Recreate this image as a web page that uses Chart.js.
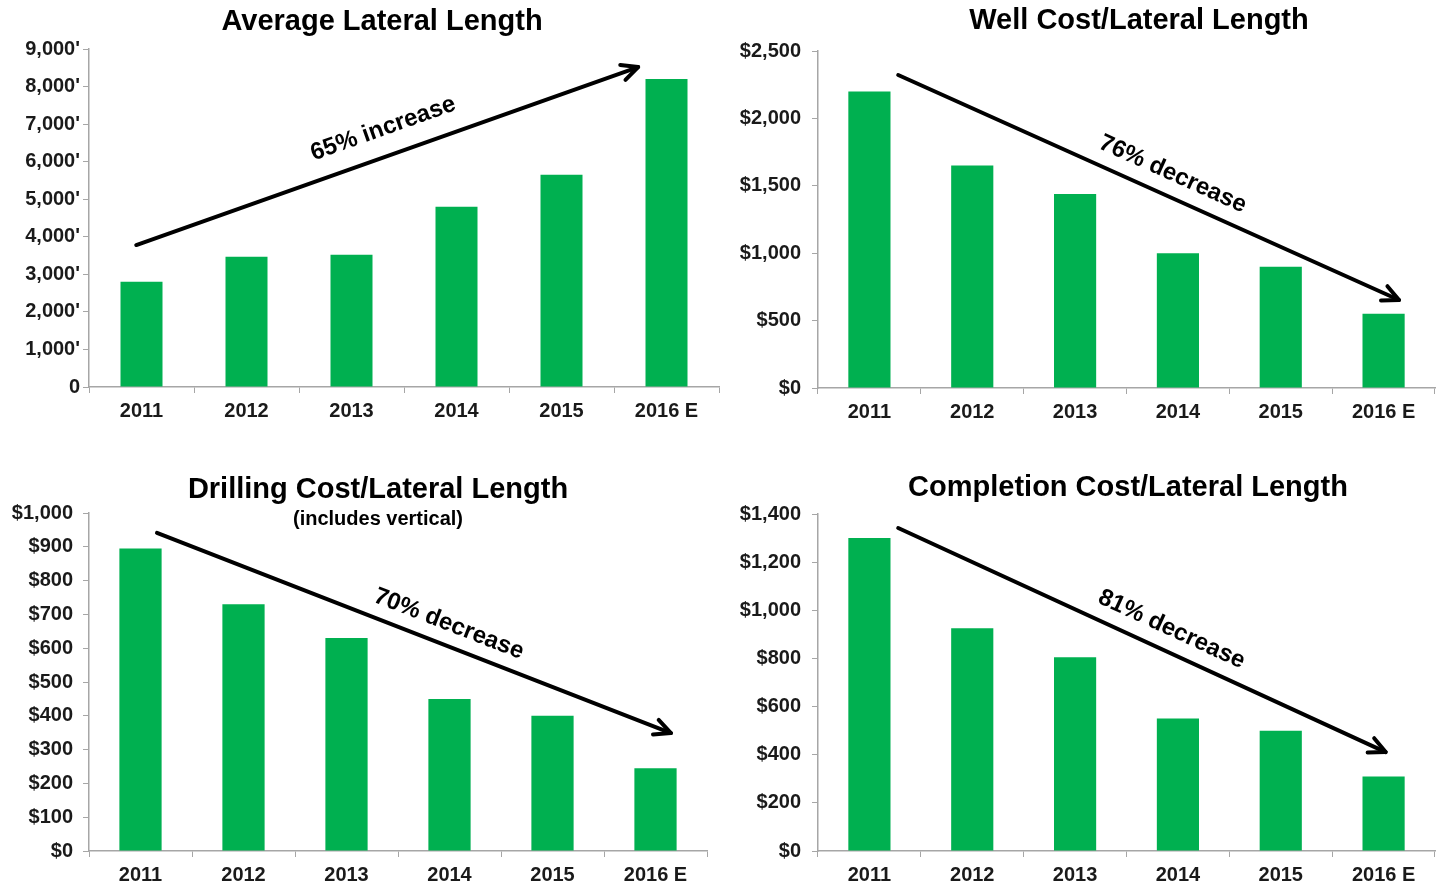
<!DOCTYPE html>
<html>
<head>
<meta charset="utf-8">
<script src="https://cdn.jsdelivr.net/npm/chart.js@4.4.1/dist/chart.umd.min.js"></script>
<style>
  html, body { margin:0; padding:0; background:#fff; }
  body { width:1445px; height:890px; position:relative; overflow:hidden; }
  .q { position:absolute; }
</style>
</head>
<body>
<div class="q" style="left:0;top:0;width:722px;height:445px;"><canvas id="c1"></canvas></div>
<div class="q" style="left:722px;top:0;width:723px;height:445px;"><canvas id="c2"></canvas></div>
<div class="q" style="left:0;top:445px;width:722px;height:445px;"><canvas id="c3"></canvas></div>
<div class="q" style="left:722px;top:445px;width:723px;height:445px;"><canvas id="c4"></canvas></div>
<script>
// ---- data ----
const categories = ['2011', '2012', '2013', '2014', '2015', '2016 E'];
const lateralLength = [2800, 3470, 3520, 4800, 5650, 8200];
const wellCost = [2200, 1650, 1440, 1000, 900, 550];
const drillingCost = [895, 730, 630, 450, 400, 245];
const completionCost = [1300, 925, 805, 550, 500, 310];
const titles = ['Average Lateral Length', 'Well Cost/Lateral Length', 'Drilling Cost/Lateral Length', 'Completion Cost/Lateral Length'];
const subtitle3 = '(includes vertical)';
const trendLabels = ['65% increase', '76% decrease', '70% decrease', '81% decrease'];
// arrow endpoints in data units: [startIndex, startValue, endIndex, endValue]
const trendArrows = [
  [-0.05, 3780, 4.73, 8520],
  [0.28, 2322, 5.15, 653],
  [0.16, 941, 5.15, 349],
  [0.28, 1342, 5.02, 411]
];
const yMax = [9000, 2500, 1000, 1400];
const yStep = [1000, 500, 100, 200];

const GREEN = '#00B050';
const AXIS = '#a6a6a6';
const FONT = "'Liberation Sans', Arial, sans-serif";

const decor = {
  id: 'decor',
  afterDraw(chart, args, o) {
    const ctx = chart.ctx;
    ctx.save();
    ctx.fillStyle = '#000';
    ctx.textAlign = 'center';
    ctx.textBaseline = 'middle';
    for (const t of o.titles) {
      ctx.font = 'bold ' + t.size + 'px ' + FONT;
      ctx.fillText(t.text, t.x, t.y);
    }
    const a = o.arrow;
    const xs = chart.scales.x, ys = chart.scales.y;
    const x0 = xs.getPixelForValue(a.pts[0]), y0 = ys.getPixelForValue(a.pts[1]);
    const x1 = xs.getPixelForValue(a.pts[2]), y1 = ys.getPixelForValue(a.pts[3]);
    const ang = Math.atan2(y1 - y0, x1 - x0);
    ctx.strokeStyle = '#000';
    ctx.lineWidth = 4;
    ctx.lineCap = 'round';
    ctx.lineJoin = 'round';
    ctx.beginPath();
    ctx.moveTo(x0, y0);
    ctx.lineTo(x1, y1);
    ctx.stroke();
    const hl = 18, ha = 0.45;
    ctx.beginPath();
    ctx.moveTo(x1 - hl * Math.cos(ang - ha), y1 - hl * Math.sin(ang - ha));
    ctx.lineTo(x1, y1);
    ctx.lineTo(x1 - hl * Math.cos(ang + ha), y1 - hl * Math.sin(ang + ha));
    ctx.stroke();
    // label
    const mx = x0 + (x1 - x0) * a.frac, my = y0 + (y1 - y0) * a.frac;
    const nx = Math.sin(ang), ny = -Math.cos(ang);
    ctx.translate(mx + nx * a.off, my + ny * a.off);
    ctx.rotate(ang);
    ctx.font = 'bold ' + a.size + 'px ' + FONT;
    ctx.fillText(a.label, 0, 0);
    ctx.restore();
  }
};

function makeChart(id, values, idx, layout, yFmt) {
  const tickFont = { family: FONT, size: 20, weight: 'bold' };
  return new Chart(document.getElementById(id), {
    type: 'bar',
    data: {
      labels: categories,
      datasets: [{ data: values, backgroundColor: GREEN, borderWidth: 0, categoryPercentage: 1.0, barPercentage: layout.bar }]
    },
    options: {
      responsive: true,
      maintainAspectRatio: false,
      animation: false,
      layout: { padding: { left: 0, top: layout.top, right: layout.right, bottom: 0 } },
      plugins: {
        legend: { display: false },
        tooltip: { enabled: false },
        decor: {
          titles: layout.titles,
          arrow: { pts: trendArrows[idx], label: trendLabels[idx], frac: layout.frac, off: layout.off, size: layout.asize }
        }
      },
      scales: {
        x: {
          grid: { drawOnChartArea: false, drawTicks: true, tickLength: 6, color: AXIS, offset: true },
          border: { color: AXIS, width: 1.5 },
          ticks: { font: tickFont, color: '#1a1a1a', padding: 6, maxRotation: 0, autoSkip: false },
          afterFit(s) { s.height = layout.xh; }
        },
        y: {
          min: 0, max: yMax[idx],
          grid: { drawOnChartArea: false, drawTicks: true, tickLength: 6, color: AXIS },
          border: { color: AXIS, width: 1.5 },
          ticks: { stepSize: yStep[idx], font: tickFont, color: '#1a1a1a', padding: layout.ypad, callback: yFmt },
          afterFit(s) { s.width = layout.yw; }
        }
      }
    },
    plugins: [decor]
  });
}

const dollar = v => '$' + Number(v).toLocaleString('en-US');
const feet = v => v === 0 ? '0' : Number(v).toLocaleString('en-US') + "'";

makeChart('c1', lateralLength, 0, {
  top: 49, right: 3, xh: 58, yw: 89, ypad: 3, bar: 0.40, frac: 0.51, off: 27, asize: 24,
  titles: [{ text: titles[0], x: 382, y: 22, size: 29 }]
}, feet);
makeChart('c2', wellCost, 1, {
  top: 51, right: 10, xh: 57, yw: 96, ypad: 11, bar: 0.41, frac: 0.53, off: 22, asize: 24,
  titles: [{ text: titles[1], x: 417, y: 21, size: 29 }]
}, dollar);
makeChart('c3', drillingCost, 2, {
  top: 68, right: 15, xh: 39, yw: 89, ypad: 10, bar: 0.41, frac: 0.553, off: 21, asize: 24,
  titles: [{ text: titles[2], x: 378, y: 45, size: 29 }, { text: subtitle3, x: 378, y: 74, size: 20 }]
}, dollar);
makeChart('c4', completionCost, 3, {
  top: 69, right: 10, xh: 39, yw: 96, ypad: 11, bar: 0.41, frac: 0.542, off: 22, asize: 24,
  titles: [{ text: titles[3], x: 406, y: 43, size: 29 }]
}, dollar);
</script>
</body>
</html>
